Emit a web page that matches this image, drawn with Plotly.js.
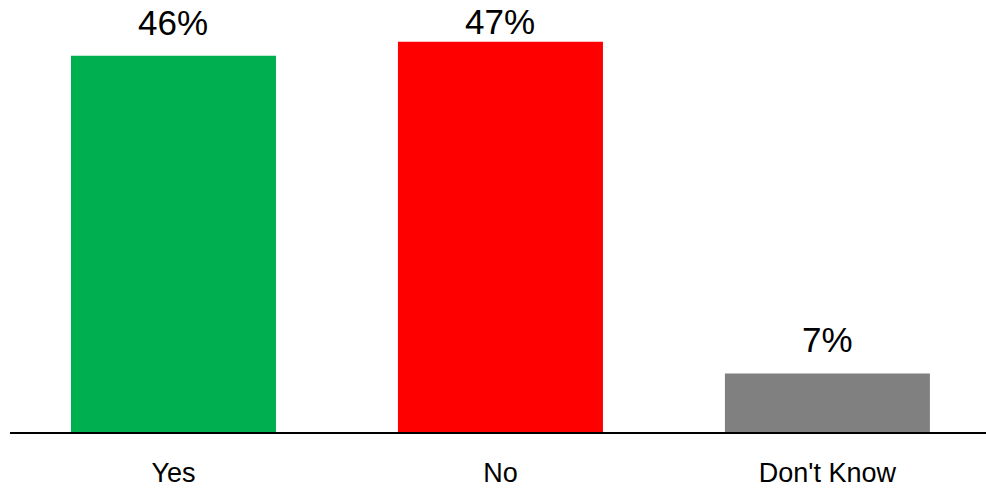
<!DOCTYPE html>
<html>
<head>
<meta charset="utf-8">
<script src="https://cdn.plot.ly/plotly-3.0.1.min.js"></script>
<style>html,body{margin:0;padding:0;background:#fff;}#chart{width:986px;height:491px;}</style>
</head>
<body>
<div id="chart"></div>
<script>
const categories = ["Yes", "No", "Don't Know"];
const values = [45.6, 47.3, 7.1];
const labels = ["46%", "47%", "7%"];
const colors = ["#00B050", "#FF0000", "#808080"];

const FONT = "Liberation Sans, Arial, sans-serif";
// labels that would leave the chart are held at this height, as in the source
const labelCap = 45.7;

const trace = {
  type: "bar",
  x: categories,
  y: values,
  marker: {color: colors, line: {width: 0}},
  hoverinfo: "skip"
};

const annotations = categories.map((c, i) => ({
  x: c, y: Math.min(values[i], labelCap), xref: "x", yref: "y",
  text: labels[i], showarrow: false,
  yanchor: "bottom", xanchor: "center", yshift: 12,
  font: {family: FONT, size: 35, color: "#000"}
}));

const layout = {
  width: 986, height: 491,
  margin: {l: 10, r: 0, t: 0, b: 59},
  paper_bgcolor: "#fff", plot_bgcolor: "#fff",
  showlegend: false,
  bargap: 0.373,
  xaxis: {
    type: "category",
    range: [-0.5, 2.485],
    showline: true, linecolor: "#000", linewidth: 2,
    showgrid: false, zeroline: false, ticks: "",
    ticklabelstandoff: 16,
    tickfont: {family: FONT, size: 27, color: "#000"},
    fixedrange: true
  },
  yaxis: {
    range: [0, 52.36],
    visible: false, showgrid: false, zeroline: false,
    fixedrange: true
  },
  annotations: annotations
};

Plotly.newPlot("chart", [trace], layout, {displayModeBar: false, staticPlot: true});
</script>
</body>
</html>
